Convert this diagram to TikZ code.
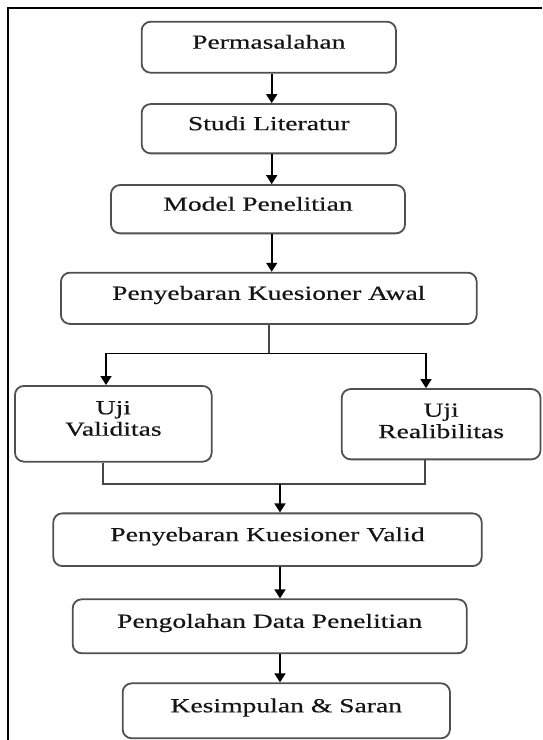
\documentclass[tikz,border=0pt]{standalone}
\usepackage{fontspec}
\setmainfont[FakeStretch=1.38,FakeBold=0.4]{Liberation Serif}
\usetikzlibrary{arrows.meta}
\definecolor{boxgray}{HTML}{505050}
\definecolor{txt}{HTML}{151515}
\begin{document}
\begin{tikzpicture}[x=1pt,y=-1pt,
  box/.style={draw=boxgray, line width=1.8pt, rounded corners=9pt, inner sep=0pt,
    font=\fontsize{20}{21.4}\selectfont, text=txt},
  one/.style={box, text height=13pt, text depth=10pt},
  two/.style={box},
  arr/.style={draw=black, line width=1.6pt, -{Triangle[length=9pt,width=11pt]}},
  ln/.style={draw=black!72, line width=1.7pt}]
\useasboundingbox (0,0) rectangle (542,740);
% frame (top and left edges)
\coordinate (fb) at (8.3,740);
\coordinate (ft) at (8.3,8.3);
\coordinate (fr) at (542,8.3);
\draw[line width=1.8pt] (fb) -- (ft) -- (fr);
% boxes
\node[one, minimum width=254.3pt, minimum height=51pt]   (perm) at (268.8,47.2)  {Permasalahan};
\node[one, minimum width=254.3pt, minimum height=49.3pt] (stud) at (268.8,128.7) {Studi Literatur};
\node[one, minimum width=294pt,   minimum height=48.3pt] (modl) at (258,209.2)   {Model Penelitian};
\node[one, minimum width=415.7pt, minimum height=51.3pt] (awal) at (268.8,298.3) {Penyebaran Kuesioner Awal};
\node[two, minimum width=196.7pt, minimum height=75.7pt] (uval) at (113.3,423.8)
  {\begin{tabular}{@{}c@{}}Uji\\Validitas\rule[-12.6pt]{0pt}{12.6pt}\end{tabular}};
\node[two, minimum width=198.8pt, minimum height=70.3pt] (urel) at (441.1,424.2)
  {\begin{tabular}{@{}c@{}}Uji\\Realibilitas\rule[-8.6pt]{0pt}{8.6pt}\end{tabular}};
\node[one, minimum width=428.4pt, minimum height=52.7pt] (vald) at (267.5,539.7) {Penyebaran Kuesioner Valid};
\node[one, minimum width=394pt,   minimum height=54pt]   (olah) at (269.7,626.3) {Pengolahan Data Penelitian};
\node[one, minimum width=327.3pt, minimum height=55pt]   (kesi) at (286.3,710.8) {Kesimpulan \& Saran};
% connector guide coordinates
\coordinate (c1) at (271.7,0);
\coordinate (cs) at (269.3,353.3);
\coordinate (cl) at (106,353.3);
\coordinate (cr) at (426,353.3);
\coordinate (ml) at (103.3,484.3);
\coordinate (mr) at (425,484.3);
\coordinate (mm) at (280,484.3);
% connectors
\draw[arr] (perm.south -| c1) -- (stud.north -| c1);
\draw[arr] (stud.south -| c1) -- (modl.north -| c1);
\draw[arr] (modl.south -| c1) -- (awal.north -| c1);
\draw[ln] (awal.south -| cs) -- (cs);
\draw[arr] (cs) -| (uval.north -| cl);
\draw[arr] (cs) -| (urel.north -| cr);
\draw[ln] (uval.south -| ml) |- (mm);
\draw[ln] (urel.south -| mr) |- (mm);
\draw[arr] (mm) -- (vald.north -| mm);
\draw[arr] (vald.south -| mm) -- (olah.north -| mm);
\draw[arr] (olah.south -| mm) -- (kesi.north -| mm);
\end{tikzpicture}
\end{document}
